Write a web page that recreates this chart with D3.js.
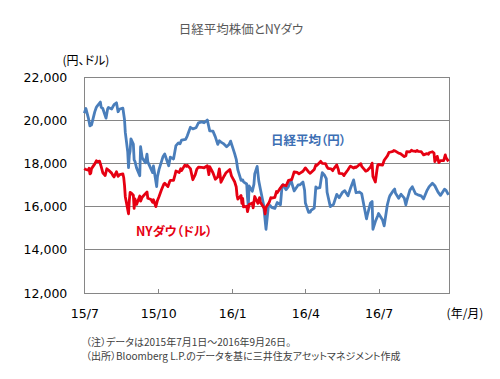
<!DOCTYPE html>
<html><head><meta charset="utf-8">
<script src="https://cdn.jsdelivr.net/npm/d3@7"></script>
<style>
html,body{margin:0;padding:0;background:#fff;}
svg{display:block;}
.jp{font-family:"Noto Sans CJK JP","Noto Sans",sans-serif;font-feature-settings:"palt";}
.num{font-family:"DejaVu Sans",Verdana,sans-serif;}
</style></head>
<body>
<svg id="c" width="500" height="379"></svg>
<script>
const title = "日経平均株価とNYダウ";
const yUnit = "(円、ドル)";
const xUnit = "(年/月)";
const nikkeiLabel = "日経平均（円）";
const dowLabel = "NYダウ（ドル）";
const notes = ["（注）データは2015年7月1日～2016年9月26日。",
               "（出所）Bloomberg L.P.のデータを基に三井住友アセットマネジメント作成"];
const yTicks = [12000,14000,16000,18000,20000,22000];
const xTicks = ["2015-07-01","2015-10-01","2016-01-01","2016-04-01","2016-07-01"];
const xTickLabels = ["15/7","15/10","16/1","16/4","16/7"];

const nikkeiDates = ["2015-07-01","2015-07-03","2015-07-06","2015-07-08","2015-07-09","2015-07-10","2015-07-14","2015-07-16","2015-07-17","2015-07-21","2015-07-22","2015-07-24","2015-07-28","2015-07-30","2015-07-31","2015-08-04","2015-08-07","2015-08-10","2015-08-12","2015-08-14","2015-08-18","2015-08-20","2015-08-21","2015-08-24","2015-08-25","2015-08-26","2015-08-27","2015-08-28","2015-08-31","2015-09-01","2015-09-02","2015-09-04","2015-09-08","2015-09-09","2015-09-11","2015-09-15","2015-09-17","2015-09-18","2015-09-24","2015-09-25","2015-09-29","2015-09-30","2015-10-02","2015-10-07","2015-10-09","2015-10-14","2015-10-16","2015-10-20","2015-10-23","2015-10-26","2015-10-28","2015-10-30","2015-11-04","2015-11-06","2015-11-10","2015-11-13","2015-11-17","2015-11-20","2015-11-24","2015-11-27","2015-12-01","2015-12-04","2015-12-08","2015-12-11","2015-12-14","2015-12-16","2015-12-18","2015-12-21","2015-12-25","2015-12-28","2015-12-30","2016-01-04","2016-01-06","2016-01-08","2016-01-12","2016-01-14","2016-01-15","2016-01-19","2016-01-20","2016-01-21","2016-01-22","2016-01-26","2016-01-28","2016-01-29","2016-02-01","2016-02-03","2016-02-05","2016-02-09","2016-02-10","2016-02-12","2016-02-15","2016-02-17","2016-02-19","2016-02-23","2016-02-26","2016-03-01","2016-03-03","2016-03-04","2016-03-08","2016-03-11","2016-03-14","2016-03-16","2016-03-18","2016-03-23","2016-03-25","2016-03-29","2016-03-31","2016-04-01","2016-04-05","2016-04-07","2016-04-08","2016-04-12","2016-04-14","2016-04-15","2016-04-19","2016-04-21","2016-04-22","2016-04-25","2016-04-27","2016-04-28","2016-05-02","2016-05-06","2016-05-10","2016-05-13","2016-05-17","2016-05-20","2016-05-24","2016-05-27","2016-05-31","2016-06-03","2016-06-07","2016-06-10","2016-06-13","2016-06-16","2016-06-17","2016-06-21","2016-06-23","2016-06-24","2016-06-27","2016-06-30","2016-07-01","2016-07-06","2016-07-08","2016-07-12","2016-07-14","2016-07-15","2016-07-19","2016-07-21","2016-07-22","2016-07-26","2016-07-29","2016-08-02","2016-08-04","2016-08-05","2016-08-09","2016-08-12","2016-08-16","2016-08-19","2016-08-23","2016-08-26","2016-08-30","2016-09-02","2016-09-06","2016-09-09","2016-09-13","2016-09-16","2016-09-21","2016-09-23","2016-09-26"];
const nikkeiValues = [20329,20539,20112,19737,19855,19780,20385,20600,20650,20841,20593,20544,20095,20522,20585,20520,20724,20808,20392,20519,20554,20033,19435,18540,17806,18376,18574,19136,18890,18165,18095,17792,17427,18770,18264,18026,18432,18070,17571,17880,16930,17388,17725,18322,18438,17891,18291,18207,18825,18947,18904,19083,19116,19265,19671,19597,19650,19879,19925,19883,20012,19504,19492,19230,18883,19049,18986,18916,18769,18873,19033,18450,18191,17697,17218,17240,17147,17048,16416,16017,16958,16708,17041,17518,17865,17191,16819,16085,15713,14952,16022,16054,15967,15916,16188,16086,16960,17014,16784,16938,17233,16974,16724,17000,17002,17134,16758,16164,15732,15749,15821,15928,16911,16848,16874,17363,17572,17439,17290,16666,15999,16106,16565,16412,16653,16736,16498,16834,17235,16642,16675,16601,16019,15434,15599,16169,16238,14952,15309,15576,15682,15379,15106,16095,16386,16497,16723,16810,16627,16383,16569,16391,16083,16254,16764,16919,16596,16545,16497,16360,16725,16925,17081,16965,16672,16519,16807,16754,16544];

const dowDates = ["2015-07-01","2015-07-02","2015-07-06","2015-07-07","2015-07-08","2015-07-09","2015-07-10","2015-07-14","2015-07-16","2015-07-17","2015-07-20","2015-07-22","2015-07-24","2015-07-27","2015-07-29","2015-07-31","2015-08-04","2015-08-06","2015-08-07","2015-08-10","2015-08-12","2015-08-14","2015-08-18","2015-08-19","2015-08-20","2015-08-21","2015-08-24","2015-08-25","2015-08-26","2015-08-27","2015-08-28","2015-08-31","2015-09-01","2015-09-02","2015-09-04","2015-09-08","2015-09-09","2015-09-11","2015-09-15","2015-09-17","2015-09-18","2015-09-22","2015-09-24","2015-09-25","2015-09-28","2015-09-30","2015-10-02","2015-10-05","2015-10-08","2015-10-09","2015-10-13","2015-10-15","2015-10-16","2015-10-20","2015-10-22","2015-10-23","2015-10-27","2015-10-29","2015-10-30","2015-11-03","2015-11-05","2015-11-06","2015-11-10","2015-11-13","2015-11-16","2015-11-18","2015-11-20","2015-11-24","2015-11-27","2015-12-01","2015-12-03","2015-12-04","2015-12-08","2015-12-11","2015-12-14","2015-12-16","2015-12-18","2015-12-22","2015-12-24","2015-12-29","2015-12-31","2016-01-04","2016-01-06","2016-01-07","2016-01-08","2016-01-12","2016-01-13","2016-01-14","2016-01-15","2016-01-19","2016-01-20","2016-01-22","2016-01-26","2016-01-27","2016-01-29","2016-02-02","2016-02-04","2016-02-05","2016-02-08","2016-02-10","2016-02-11","2016-02-12","2016-02-16","2016-02-18","2016-02-19","2016-02-23","2016-02-25","2016-02-26","2016-03-01","2016-03-04","2016-03-08","2016-03-11","2016-03-15","2016-03-17","2016-03-18","2016-03-22","2016-03-24","2016-03-29","2016-04-01","2016-04-05","2016-04-07","2016-04-08","2016-04-12","2016-04-14","2016-04-15","2016-04-19","2016-04-20","2016-04-22","2016-04-26","2016-04-28","2016-04-29","2016-05-03","2016-05-05","2016-05-06","2016-05-10","2016-05-12","2016-05-13","2016-05-17","2016-05-19","2016-05-20","2016-05-24","2016-05-26","2016-05-27","2016-05-31","2016-06-02","2016-06-03","2016-06-07","2016-06-09","2016-06-10","2016-06-13","2016-06-15","2016-06-17","2016-06-21","2016-06-23","2016-06-24","2016-06-27","2016-06-29","2016-06-30","2016-07-01","2016-07-06","2016-07-08","2016-07-12","2016-07-14","2016-07-15","2016-07-19","2016-07-20","2016-07-22","2016-07-26","2016-07-28","2016-07-29","2016-08-02","2016-08-04","2016-08-05","2016-08-09","2016-08-11","2016-08-12","2016-08-16","2016-08-18","2016-08-19","2016-08-23","2016-08-25","2016-08-26","2016-08-30","2016-09-01","2016-09-02","2016-09-06","2016-09-08","2016-09-09","2016-09-12","2016-09-14","2016-09-16","2016-09-20","2016-09-22","2016-09-23","2016-09-26"];
const dowValues = [17757,17730,17683,17776,17515,17548,17760,17977,18120,18086,18100,17851,17569,17440,17751,17690,17550,17419,17373,17615,17402,17477,17512,17349,16990,16460,15871,15666,16285,16655,16643,16528,15916,16351,16102,16492,16253,16433,16600,16675,16385,16330,16201,16315,16001,16285,16472,16777,17050,17084,16925,17142,17216,17218,17489,17647,17582,17756,17664,17919,17863,17910,17758,17245,17484,17738,17824,17813,17798,17888,17478,17848,17568,17265,17368,17750,17128,17418,17553,17721,17425,17149,16907,16514,16346,16516,16151,16380,15988,16016,15766,16093,16168,15944,16466,16153,16417,16205,16027,15914,15660,15974,16196,16414,16392,16431,16698,16640,16866,17007,16964,17213,17251,17481,17602,17582,17516,17634,17793,17603,17541,17577,17722,17926,17897,18053,18096,18004,17990,17830,17774,17751,17661,17740,17928,17721,17535,17530,17436,17501,17706,17828,17873,17787,17838,17807,17938,17985,17865,17733,17640,17675,17830,18011,17400,17140,17695,17930,17949,17919,18147,18348,18507,18516,18560,18596,18571,18474,18457,18432,18314,18353,18543,18534,18614,18577,18552,18598,18553,18548,18448,18395,18454,18420,18492,18539,18480,18085,18325,18034,18124,18130,18393,18261,18094];

const parse = d3.timeParse("%Y-%m-%d");
const nikkei = nikkeiDates.map((d,i)=>({date:parse(d), v:nikkeiValues[i]}));
const dow = dowDates.map((d,i)=>({date:parse(d), v:dowValues[i]}));

const L=84.3, R=449.3, T=77, B=293;
const x = d3.scaleTime().domain([parse("2015-07-01"), parse("2016-09-27")]).range([L,R]);
const y = d3.scaleLinear().domain([12000,22000]).range([B,T]);

const svg = d3.select("#c");
const gridColor = "#868686";

// gridlines
svg.append("g").selectAll("line").data(yTicks.filter(v=>v>12000 && v<22000)).join("line")
  .attr("x1",L).attr("x2",R).attr("y1",d=>y(d)).attr("y2",d=>y(d))
  .attr("stroke",gridColor).attr("stroke-width",1).attr("shape-rendering","crispEdges");

// frame
svg.append("rect").attr("x",L).attr("y",T).attr("width",R-L).attr("height",B-T)
  .attr("fill","none").attr("stroke",gridColor).attr("stroke-width",1).attr("shape-rendering","crispEdges");

// y axis
const ya = svg.append("g").attr("transform",`translate(${L},0)`)
  .call(d3.axisLeft(y).tickValues(yTicks).tickSize(0).tickPadding(17).tickFormat(d3.format(",")));
ya.select(".domain").remove();
ya.selectAll("text").attr("class","num").attr("font-size",12.5).attr("fill","#000");

// x axis
const xa = svg.append("g").attr("transform",`translate(0,${B})`)
  .call(d3.axisBottom(x).tickValues(xTicks.map(parse)).tickSize(-4).tickPadding(16)
    .tickFormat((d,i)=>xTickLabels[i]));
xa.select(".domain").remove();
xa.selectAll("line").attr("stroke",gridColor).attr("shape-rendering","crispEdges");
xa.selectAll("text").attr("class","num").attr("font-size",12.5).attr("fill","#000");

// lines
const line = d3.line().x(d=>x(d.date)).y(d=>y(d.v));
svg.append("path").datum(nikkei).attr("d",line).attr("fill","none")
  .attr("stroke","#4a7ebb").attr("stroke-width",2.8).attr("stroke-linejoin","round");
svg.append("path").datum(dow).attr("d",line).attr("fill","none")
  .attr("stroke","#e60012").attr("stroke-width",2.8).attr("stroke-linejoin","round");

// texts
svg.append("text").attr("class","jp").attr("x",241).attr("y",34).attr("text-anchor","middle")
  .attr("font-size",12.5).attr("fill","#595959").text(title);
svg.append("text").attr("class","jp").attr("x",86).attr("y",65).attr("text-anchor","middle")
  .attr("font-size",12).attr("fill","#000").text(yUnit);
svg.append("text").attr("class","jp").attr("x",465).attr("y",318).attr("text-anchor","middle")
  .attr("font-size",12).attr("fill","#000").text(xUnit);
svg.append("text").attr("class","jp").attr("x",271).attr("y",145)
  .attr("font-size",12.5).attr("fill","#3d6fb4").attr("font-weight","bold").text(nikkeiLabel);
svg.append("text").attr("class","jp").attr("x",136).attr("y",236)
  .attr("font-size",12.5).attr("fill","#e60012").attr("font-weight","bold").text(dowLabel);
svg.selectAll("text.note").data(notes).join("text").attr("class","jp note")
  .attr("x",86).attr("y",(d,i)=>346+i*14).attr("font-size",10).attr("fill","#404040").text(d=>d);
</script>
</body></html>
